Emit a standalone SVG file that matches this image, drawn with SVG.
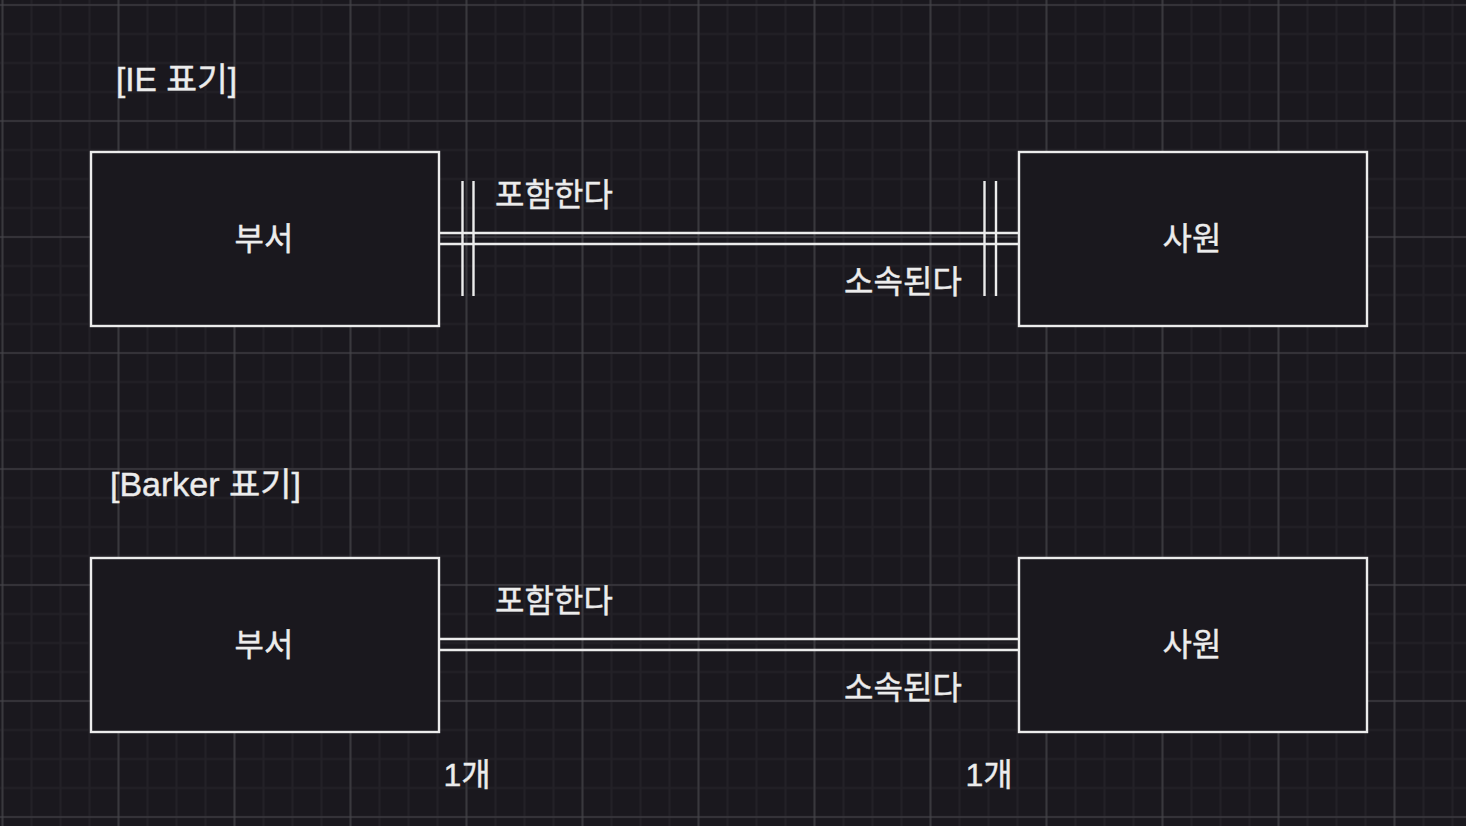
<svg xmlns="http://www.w3.org/2000/svg" width="1466" height="826" viewBox="0 0 1466 826">
  <defs>
    <pattern id="minor" patternUnits="userSpaceOnUse" x="-12" y="-9.5" width="29" height="29">
      <path d="M14.5 0V29M0 14.5H29" stroke="#232127" stroke-width="2" fill="none"/>
    </pattern>
    <pattern id="major" patternUnits="userSpaceOnUse" x="-55.5" y="-53" width="116" height="116">
      <path d="M58 0V116M0 58H116" stroke="#47464b" stroke-width="1.2" fill="none"/>
    </pattern>
  </defs>
  <style>
    .box { fill: #1a181e; stroke: #ececec; stroke-width: 2.4; }
    .ln { stroke: #ececec; stroke-width: 2.4; fill: none; }
    text { font-family: "Liberation Sans", "Noto Sans CJK KR", sans-serif; font-size: 32px; fill: #ececec; stroke: #ececec; stroke-width: 0.4; }
    .c { text-anchor: middle; }
    .t { font-size: 33px; }
  </style>
  <rect width="1466" height="826" fill="#1a181e"/>
  <rect width="1466" height="826" fill="url(#minor)"/>
  <rect width="1466" height="826" fill="url(#major)"/>

  <g id="title-ie"><text class="t" x="116" y="91" textLength="121" lengthAdjust="spacingAndGlyphs">[IE 표기]</text></g>
  <g id="title-barker"><text class="t" x="110" y="496" textLength="191" lengthAdjust="spacingAndGlyphs">[Barker 표기]</text></g>

  <g id="connectors">
    <path class="ln" d="M439 233H1019M439 244H1019"/>
    <path class="ln" d="M462.5 181V296M473.5 181V296M984.5 181V296M996 181V296"/>
    <path class="ln" d="M439 639H1019M439 650H1019"/>
  </g>

  <g id="ie-dept">
    <rect class="box" x="91" y="152" width="348" height="174"/>
    <text class="c" x="264" y="250">부서</text>
  </g>
  <g id="ie-emp">
    <rect class="box" x="1019" y="152" width="348" height="174"/>
    <text class="c" x="1192" y="250">사원</text>
  </g>
  <g id="barker-dept">
    <rect class="box" x="91" y="558" width="348" height="174"/>
    <text class="c" x="264" y="656">부서</text>
  </g>
  <g id="barker-emp">
    <rect class="box" x="1019" y="558" width="348" height="174"/>
    <text class="c" x="1192" y="656">사원</text>
  </g>

  <g id="labels">
    <text class="c" x="554" y="206">포함한다</text>
    <text class="c" x="903" y="293">소속된다</text>
    <text class="c" x="554" y="612">포함한다</text>
    <text class="c" x="903" y="699">소속된다</text>
    <text class="c" x="467" y="786">1개</text>
    <text class="c" x="989" y="786">1개</text>
  </g>
</svg>
